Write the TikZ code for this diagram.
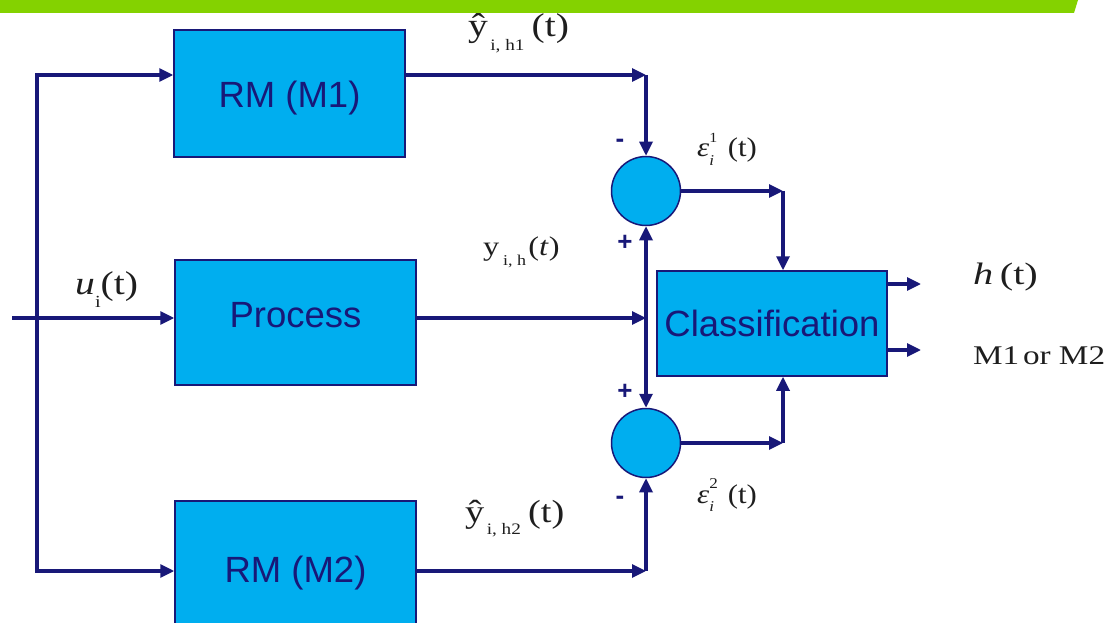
\documentclass[tikz,border=0pt]{standalone}
\usepackage{fontspec}
\setmainfont{Liberation Serif}
\newfontfamily\arialf{Liberation Sans}
\usetikzlibrary{arrows.meta}
\definecolor{navy}{RGB}{24,24,120}
\definecolor{boxcyan}{RGB}{0,174,239}
\definecolor{barg}{RGB}{132,210,0}
\definecolor{lbltext}{RGB}{30,30,30}
\newcommand{\sbs}[2]{\raisebox{-0.4em}{\fontsize{#1}{#1}\selectfont #2}}
\newcommand{\shifttext}[2]{\raisebox{#1}[\height][\depth]{#2}}
\newcommand{\wide}[2]{\scalebox{#1}[1]{#2}}
\begin{document}
\begin{tikzpicture}[x=1pt,y=-1pt,
  blk/.style={draw=navy,line width=1.5pt,fill=boxcyan,inner sep=0pt,font=\arialf\fontsize{36.5}{36.5}\selectfont,text=navy},
  sumc/.style={circle,draw=navy,line width=1.5pt,fill=boxcyan,minimum size=69pt,inner sep=0pt},
  conn/.style={draw=navy,line width=3.2pt},
  arr/.style={conn,-{Triangle[length=14pt,width=13pt]}},
  arrb/.style={conn,{Triangle[length=14pt,width=13pt]}-{Triangle[length=14pt,width=13pt]}},
  lbl/.style={inner sep=0pt,anchor=base west,text=lbltext},
  sign/.style={inner sep=0pt,font=\arialf\bfseries\fontsize{26}{26}\selectfont,text=navy}]
\useasboundingbox (0,0) rectangle (1112,623);
\clip (0,0) rectangle (1112,623);
% top bar
\fill[barg] (0,0) -- (1078,0) -- (1074,13) -- (0,13) -- cycle;
% blocks
\node[blk,minimum width=231pt,minimum height=127pt] (rm1) at (289.5,93.5) {\shifttext{-5pt}{RM (M1)}};
\node[blk,minimum width=241pt,minimum height=125pt] (proc) at (295.5,322.5) {\shifttext{7pt}{Process}};
\node[blk,minimum width=241pt,minimum height=139pt] (rm2) at (295.5,570.5) {\shifttext{-3pt}{RM (M2)}};
\node[blk,minimum width=230pt,minimum height=105pt] (cls) at (772,323.5) {Classification};
\node[sumc] (s1) at (646,191) {};
\node[sumc] (s2) at (646,443) {};
% coordinates
\coordinate (in) at (12,318);
\coordinate (j1) at (37,75);
\coordinate (j2) at (37,571);
\coordinate (c1) at (646,75);
\coordinate (c2) at (646,318);
\coordinate (c3) at (646,571);
\coordinate (d1) at (783,191);
\coordinate (d2) at (783,443);
\coordinate (o1) at (921,284);
\coordinate (o2) at (921,350);
% connectors
\draw[conn,line cap=rect] (j1) -- (j2);
\draw[arr] (in) -- (in -| proc.west);
\draw[arr] (j1) -- (j1 -| rm1.west);
\draw[arr] (j2) -- (j2 -| rm2.west);
\draw[arr] (c1 -| rm1.east) -- (c1);
\draw[arr] (c1) -- (s1.north);
\draw[arr] (c2 -| proc.east) -- (c2);
\draw[arrb] (s1.south) -- (s2.north);
\draw[arr] (c3 -| rm2.east) -- (c3);
\draw[arr] (c3) -- (s2.south);
\draw[arr] (s1.east) -- (d1);
\draw[arr] (d1) -- (d1 |- cls.north);
\draw[arr] (s2.east) -- (d2);
\draw[arr] (d2) -- (d2 |- cls.south);
\draw[arr] (o1 -| cls.east) -- (o1);
\draw[arr] (o2 -| cls.east) -- (o2);
% signs
\node[sign] (m1) at (620,143) {-};
\node[sign] (p1) at (625,243) {+};
\node[sign] (p2) at (625,392) {+};
\node[sign] (m2) at (620,500) {-};
% labels
\node[lbl,font=\fontsize{33}{33}\selectfont] (lh1) at (468,37) {\wide{1.2}{ŷ\hspace{2pt}\sbs{16}{i, h1}\hspace{6pt}(t)}};
\node[lbl,font=\fontsize{32}{32}\selectfont] (lh2) at (465,522) {\wide{1.2}{ŷ\hspace{2pt}\sbs{16}{i, h2}\hspace{6pt}(t)}};
\node[lbl,font=\fontsize{27}{27}\selectfont] (ly) at (483,255) {\wide{1.2}{y\hspace{3pt}\sbs{15}{i, h}\hspace{2pt}(\textit{t})}};
\node[lbl,font=\fontsize{33}{33}\selectfont] (lu) at (75,294) {\wide{1.2}{\textit{u}\sbs{17}{i}(t)}};
\node[lbl,font=\fontsize{27}{27}\selectfont] (le1) at (697,157) {\wide{1.14}{\textit{ε}\rlap{\raisebox{0.55em}{\fontsize{14}{14}\selectfont 1}}\raisebox{-0.3em}{\fontsize{15}{15}\selectfont\textit{i}}\hspace{12pt}(t)}};
\node[lbl,font=\fontsize{27}{27}\selectfont] (le2) at (697,503) {\wide{1.14}{\textit{ε}\rlap{\raisebox{0.55em}{\fontsize{15}{15}\selectfont 2}}\raisebox{-0.3em}{\fontsize{15}{15}\selectfont\textit{i}}\hspace{12pt}(t)}};
\node[lbl,font=\fontsize{31}{31}\selectfont] (lh) at (973,284) {\wide{1.3}{\textit{h}\hspace{5pt}(t)}};
\node[lbl,font=\fontsize{27}{27}\selectfont] (lm) at (973,364) {\wide{1.23}{M1\hspace{3pt}or M2}};
\end{tikzpicture}
\end{document}
